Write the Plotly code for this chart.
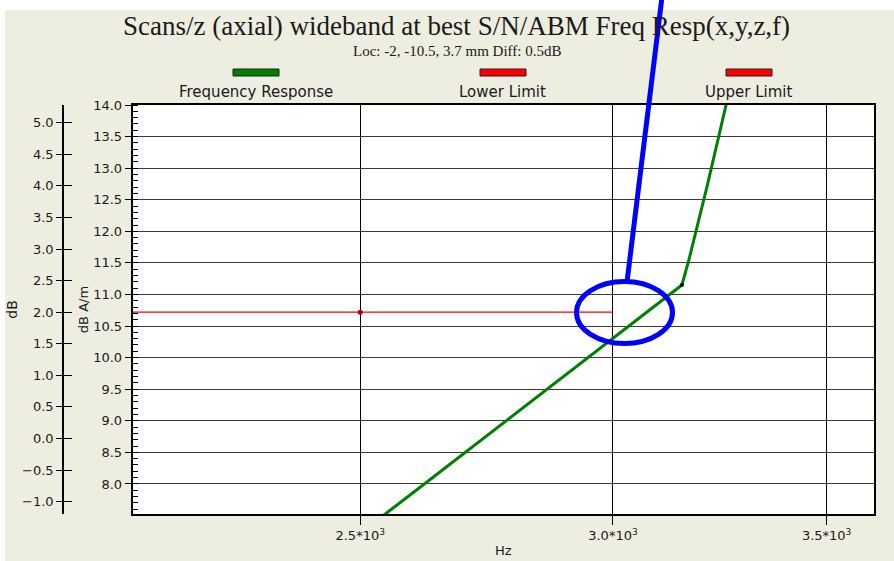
import plotly.graph_objects as go

# ---------------- data ----------------
resp_freq = [2450, 2500, 2600, 2700, 2800, 2900, 3000, 3100, 3153, 3169, 3211, 3255, 3286]
resp_val = [6.87, 7.22, 7.88, 8.52, 9.14, 9.73, 10.31, 10.86, 11.15, 11.55, 12.72, 14.00, 14.87]
knee_freq = [3153]
knee_val = [11.15]
lower_freq = [2000, 2500, 3000]
lower_db = [2.0, 2.0, 2.0]
lower_mark_freq = [2500]
lower_mark_db = [2.0]
x_tickvals = [2500, 3000, 3500]
x_ticktext = ["2.5*10<sup>3</sup>", "3.0*10<sup>3</sup>", "3.5*10<sup>3</sup>"]
legend_names = ["Frequency Response", "Lower Limit", "Upper Limit"]
legend_colors = ["#008000", "#FF0000", "#FF0000"]

# ---------------- layout geometry (pixels) ----------------
W, H = 894, 561
ML, MR, MT, MB = 63, 20, 105, 47
PW = W - ML - MR
PH = H - MT - MB
DATA_LEFT = 132.5


def px(x):
    return (x - ML) / PW


def py(y):
    return (H - MB - y) / PH


BEIGE = "#EDEDE0"
TXT = "#1a1a1a"
SANS = "DejaVu Sans"
SERIF = "Liberation Serif"

fig = go.Figure()

fig.add_trace(go.Scatter(x=lower_freq, y=lower_db, yaxis="y2", mode="lines",
                         line=dict(color="#FF0000", width=1.2), name=legend_names[1]))
fig.add_trace(go.Scatter(x=lower_mark_freq, y=lower_mark_db, yaxis="y2", mode="markers",
                         marker=dict(color="#B00000", size=5), name=legend_names[1]))
fig.add_trace(go.Scatter(x=lower_freq, y=lower_db, yaxis="y3", mode="lines",
                         line=dict(width=0), opacity=0, hoverinfo="skip"))
fig.add_trace(go.Scatter(x=resp_freq, y=resp_val, mode="lines",
                         line=dict(color="#008000", width=3), name=legend_names[0]))
fig.add_trace(go.Scatter(x=knee_freq, y=knee_val, mode="markers",
                         marker=dict(color="black", size=4), name=legend_names[0]))

shapes = []
# white data area
shapes.append(dict(type="rect", xref="x", yref="y", x0=100, x1=100000, y0=-100, y1=100,
                   fillcolor="white", line=dict(width=0), layer="below"))
# white outer strips
shapes.append(dict(type="rect", xref="paper", yref="paper", x0=px(-5), x1=px(W + 5),
                   y0=py(10), y1=py(-5), fillcolor="white", line=dict(width=0), layer="above"))
shapes.append(dict(type="rect", xref="paper", yref="paper", x0=px(-5), x1=px(5),
                   y0=py(H + 5), y1=py(-5), fillcolor="white", line=dict(width=0), layer="above"))
# legend swatches
for cx, col in zip([256, 503, 749], legend_colors):
    shapes.append(dict(type="rect", xref="paper", yref="paper", x0=px(cx - 23), x1=px(cx + 23),
                       y0=py(76), y1=py(69), fillcolor=col, line=dict(color="#222", width=1),
                       layer="above"))
# blue highlight annotation
shapes.append(dict(type="circle", xref="paper", yref="paper", x0=px(576.5), x1=px(672.5),
                   y0=py(343.5), y1=py(281.5), line=dict(color="#0000FF", width=5), layer="above"))
shapes.append(dict(type="line", xref="paper", yref="paper", x0=px(627), y0=py(282),
                   x1=px(662), y1=py(-3), line=dict(color="#0000FF", width=5), layer="above"))

annotations = [
    dict(text="Scans/z (axial) wideband at best S/N/ABM Freq Resp(x,y,z,f)", xref="paper", yref="paper",
         x=px(456), y=py(26), xanchor="center", yanchor="middle", showarrow=False,
         font=dict(family=SERIF, size=27, color=TXT)),
    dict(text="Loc: -2, -10.5, 3.7 mm Diff: 0.5dB", xref="paper", yref="paper",
         x=px(457), y=py(51), xanchor="center", yanchor="middle", showarrow=False,
         font=dict(family=SERIF, size=15, color=TXT)),
]
for cx, name in zip([256, 502, 748], legend_names):
    annotations.append(dict(text=name, xref="paper", yref="paper", x=px(cx), y=py(92),
                            xanchor="center", yanchor="middle", showarrow=False,
                            font=dict(family=SANS, size=15, color=TXT)))

fig.update_layout(
    width=W, height=H,
    margin=dict(l=ML, r=MR, t=MT, b=MB, pad=0, autoexpand=False),
    paper_bgcolor=BEIGE, plot_bgcolor=BEIGE,
    showlegend=False,
    font=dict(family=SANS, size=13, color=TXT),
    shapes=shapes,
    annotations=annotations,
    xaxis=dict(type="log", domain=[px(DATA_LEFT), 1], range=[3.3266, 3.5589], automargin=False,
               tickvals=x_tickvals, ticktext=x_ticktext, ticks="outside", ticklen=9,
               tickcolor="black", showline=True, linecolor="black", linewidth=1.5, mirror=True,
               showgrid=True, gridcolor="black", gridwidth=1, zeroline=False,
               tickfont=dict(family=SANS, size=13, color=TXT),
               title=dict(text="Hz", standoff=4, font=dict(family=SANS, size=13, color=TXT))),
    yaxis=dict(range=[7.524, 14.0], dtick=0.5, tick0=0, tickformat=".1f", ticks="outside",
               automargin=False,
               ticklen=6, tickcolor="black", showline=True, linecolor="black", linewidth=1.5,
               mirror=True, showgrid=True, gridcolor="#3a3a3a", gridwidth=1, zeroline=False,
               minor=dict(dtick=0.1, ticks="inside", ticklen=6, tickcolor="black", showgrid=False),
               tickfont=dict(family=SANS, size=13, color=TXT),
               title=dict(text="dB A/m", standoff=2, font=dict(family=SANS, size=13, color=TXT))),
    yaxis2=dict(overlaying="y", anchor="free", position=0, side="left", range=[-1.196, 5.28],
                automargin=False,
                dtick=0.5, tick0=0, tickformat=".1f", ticks="outside", ticklen=6, tickcolor="black",
                showline=True, linecolor="black", linewidth=1.5, showgrid=False, zeroline=False,
                tickfont=dict(family=SANS, size=13, color=TXT),
                title=dict(text="dB", standoff=0, font=dict(family=SANS, size=14, color=TXT))),
    yaxis3=dict(overlaying="y", anchor="free", position=0, side="right", range=[-1.196, 5.28],
                automargin=False,
                dtick=0.5, tick0=0, ticks="outside", ticklen=8, tickcolor="black",
                showticklabels=False, showline=False, showgrid=False, zeroline=False),
)

fig.write_html("out.html", config={"displayModeBar": False},
               post_script="document.body.style.margin='0';")
